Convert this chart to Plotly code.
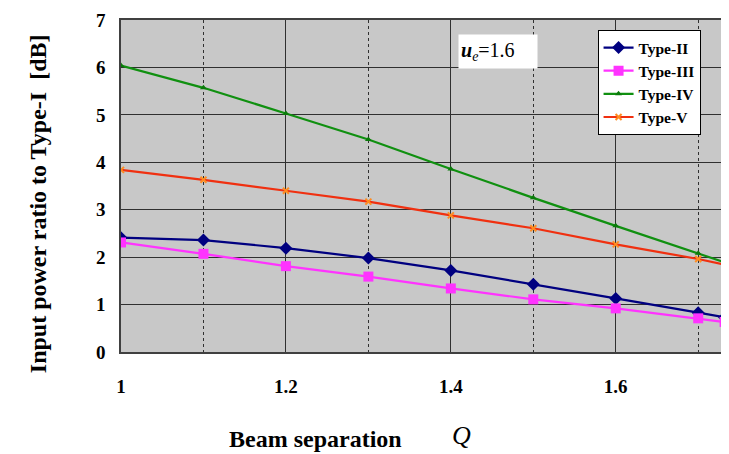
import plotly.graph_objects as go

q_values = [1.0, 1.1, 1.2, 1.3, 1.4, 1.5, 1.6, 1.7, 1.732]
type_ii = [2.41, 2.36, 2.19, 1.98, 1.72, 1.43, 1.13, 0.83, 0.73]
type_iii = [2.31, 2.07, 1.81, 1.59, 1.34, 1.11, 0.92, 0.71, 0.63]
type_iv = [6.04, 5.57, 5.03, 4.48, 3.86, 3.25, 2.66, 2.08, 1.89]
type_v = [3.84, 3.63, 3.40, 3.17, 2.88, 2.61, 2.27, 1.96, 1.84]
x_ticks = [1, 1.2, 1.4, 1.6]
x_tick_labels = ["1", "1.2", "1.4", "1.6"]
y_ticks = [0, 1, 2, 3, 4, 5, 6, 7]

SERIF = "Liberation Serif"

fig = go.Figure()
fig.add_trace(go.Scatter(x=q_values, y=type_ii, name="Type-II", mode="lines+markers",
                         line=dict(color="#000080", width=2.2),
                         marker=dict(symbol="diamond", size=10, color="#000080")))
fig.add_trace(go.Scatter(x=q_values, y=type_iii, name="Type-III", mode="lines+markers",
                         line=dict(color="#FF33FF", width=2.2),
                         marker=dict(symbol="square", size=10, color="#FF33FF")))
fig.add_trace(go.Scatter(x=q_values, y=type_iv, name="Type-IV", mode="lines+markers",
                         line=dict(color="#109010", width=2.2),
                         marker=dict(symbol="triangle-up", size=6, color="#0A7A0A")))
fig.add_trace(go.Scatter(x=q_values, y=type_v, name="Type-V", mode="lines+markers",
                         line=dict(color="#F03010", width=2.2),
                         marker=dict(symbol="x-thin", size=6, color="#FF8C20",
                                     line=dict(color="#FF8C20", width=2))))

# the page body has an 8px margin, so the figure is sized/offset to compensate
fig.update_layout(
    width=721, height=446,
    margin=dict(l=113, r=2, t=8, b=102),
    paper_bgcolor="white",
    plot_bgcolor="#C8C8C8",
    font=dict(family=SERIF, color="black"),
    showlegend=True,
    legend=dict(x=0.789, y=0.97, xanchor="left", yanchor="top",
                bgcolor="white", bordercolor="black", borderwidth=1,
                font=dict(family=SERIF, size=15.5, weight="bold"),
                itemwidth=30, tracegroupgap=0),
    xaxis=dict(range=[1, 1.7325], tickvals=x_ticks, ticktext=x_tick_labels,
               showgrid=True, gridcolor="#303030", gridwidth=1,
               minor=dict(dtick=0.1, tick0=1, showgrid=True, gridcolor="#303030",
                          griddash="3px,3px", gridwidth=1),
               showline=True, linecolor="#404040", linewidth=1.5, mirror=True,
               ticks="", zeroline=False, ticklabeloverflow="allow",
               tickfont=dict(family=SERIF, size=19, weight="bold"),
               ticklabelstandoff=16),
    yaxis=dict(range=[0, 7], tickvals=y_ticks,
               showgrid=True, gridcolor="#303030", gridwidth=1,
               showline=True, linecolor="#404040", linewidth=1.5, mirror=True,
               ticks="", zeroline=False, ticklabeloverflow="allow",
               tickfont=dict(family=SERIF, size=19, weight="bold"),
               ticklabelstandoff=10),
)

fig.add_annotation(xref="paper", yref="paper", x=-0.137, y=0.446,
                   text="Input power ratio to Type-I&nbsp;&nbsp;[dB]", textangle=-90,
                   showarrow=False, xanchor="center", yanchor="middle",
                   font=dict(family=SERIF, size=24, weight="bold"))
fig.add_annotation(xref="paper", yref="paper", x=0.322, y=-0.262,
                   text="Beam separation", showarrow=False,
                   xanchor="center", yanchor="middle",
                   font=dict(family=SERIF, size=24, weight="bold"))
fig.add_annotation(xref="paper", yref="paper", x=0.564, y=-0.25,
                   text="<i>Q</i>", showarrow=False,
                   xanchor="center", yanchor="middle",
                   font=dict(family=SERIF, size=26))
fig.add_annotation(xref="paper", yref="paper", x=0.558, y=0.958,
                   text="<b><i>u</i></b><sub><i>e</i></sub>=1.6", showarrow=False,
                   xanchor="left", yanchor="top", align="left",
                   width=74, height=29, borderpad=2, bgcolor="white",
                   font=dict(family=SERIF, size=20))

fig.write_html("out.html")
